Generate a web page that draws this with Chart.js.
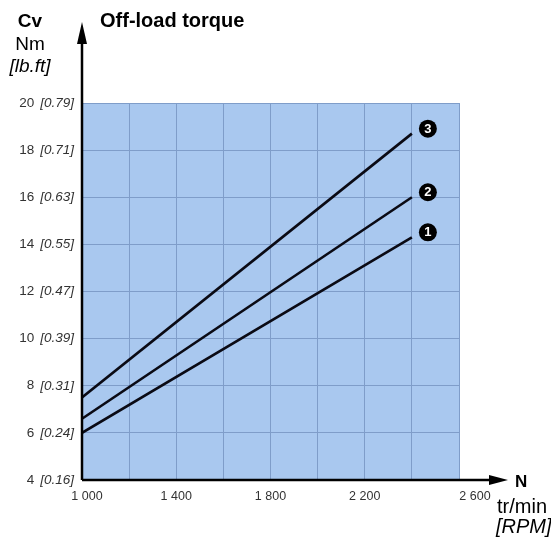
<!DOCTYPE html>
<html><head><meta charset="utf-8">
<script src="https://cdn.jsdelivr.net/npm/chart.js@4.4.1/dist/chart.umd.min.js"></script>
<style>html,body{margin:0;padding:0;background:#fff}#wrap{width:551px;height:537px;position:relative}</style>
</head><body><div id="wrap"><canvas id="c" width="551" height="537"></canvas></div>
<script>
// Data
const speeds = [1000, 2400];
const curve1 = [6.0, 14.3];
const curve2 = [6.6, 16.0];
const curve3 = [7.5, 18.7];
const curveNames = ['1', '2', '3'];
const xTickValues = [1000, 1400, 1800, 2200, 2600];
const xTickLabels = ['1 000', '1 400', '1 800', '2 200', '2 600'];
const yTickValues = [4, 6, 8, 10, 12, 14, 16, 18, 20];
const yTickLbft = ['0.16', '0.24', '0.31', '0.39', '0.47', '0.55', '0.63', '0.71', '0.79'];

const FONT = '"Liberation Sans", Arial, sans-serif';

const decor = {
  id: 'decor',
  beforeDraw(chart) {
    const {ctx, chartArea: a} = chart;
    ctx.save();
    ctx.fillStyle = '#a9c8ef';
    ctx.fillRect(a.left, a.top, a.right - a.left, a.bottom - a.top);
    ctx.restore();
  },
  afterDatasetsDraw(chart) {
    const {ctx, chartArea: a, scales: {x, y}} = chart;
    ctx.save();
    // axes with arrows
    ctx.strokeStyle = '#000'; ctx.fillStyle = '#000'; ctx.lineWidth = 2.5;
    ctx.beginPath(); ctx.moveTo(a.left, a.bottom); ctx.lineTo(a.left, 40); ctx.stroke();
    ctx.beginPath(); ctx.moveTo(a.left, a.bottom); ctx.lineTo(494, a.bottom); ctx.stroke();
    ctx.beginPath(); ctx.moveTo(a.left, 22); ctx.lineTo(a.left - 5, 44); ctx.lineTo(a.left + 5, 44); ctx.closePath(); ctx.fill();
    ctx.beginPath(); ctx.moveTo(508, a.bottom); ctx.lineTo(489, a.bottom - 5); ctx.lineTo(489, a.bottom + 5); ctx.closePath(); ctx.fill();

    // numbered markers at the end of each curve
    chart.data.datasets.forEach((ds, i) => {
      const meta = chart.getDatasetMeta(i);
      const p = meta.data[meta.data.length - 1];
      const cx = p.x + 16, cy = p.y - 5;
      ctx.fillStyle = '#000';
      ctx.beginPath(); ctx.arc(cx, cy, 9, 0, Math.PI * 2); ctx.fill();
      ctx.fillStyle = '#fff';
      ctx.font = 'bold 13px ' + FONT;
      ctx.textAlign = 'center'; ctx.textBaseline = 'middle';
      ctx.fillText(curveNames[i], cx, cy + 0.5);
    });

    // y tick labels
    ctx.fillStyle = '#333';
    ctx.textBaseline = 'middle';
    yTickValues.forEach((v, i) => {
      const py = y.getPixelForValue(v);
      const ital = '[' + yTickLbft[i] + ']';
      ctx.font = 'italic 13.5px ' + FONT;
      const w2 = ctx.measureText(ital).width;
      ctx.textAlign = 'right';
      ctx.fillText(ital, 74, py);
      ctx.font = '13.5px ' + FONT;
      ctx.fillText(String(v), 74 - w2 - 6, py);
    });
    // x tick labels
    ctx.textAlign = 'center'; ctx.textBaseline = 'middle';
    ctx.font = '12.5px ' + FONT;
    xTickValues.forEach((v, i) => {
      let px = x.getPixelForValue(v);
      if (i === 0) px += 5;
      if (i === xTickValues.length - 1) px += 16;
      ctx.fillText(xTickLabels[i], px, 497);
    });

    // titles
    ctx.fillStyle = '#000';
    ctx.textAlign = 'center'; ctx.textBaseline = 'alphabetic';
    ctx.font = 'bold 19px ' + FONT; ctx.fillText('Cv', 30, 27);
    ctx.font = '19px ' + FONT; ctx.fillText('Nm', 30, 50);
    ctx.font = 'italic 19px ' + FONT; ctx.fillText('[lb.ft]', 30, 72);
    ctx.textAlign = 'left';
    ctx.font = 'bold 20px ' + FONT;
    ctx.fillText('Off-load torque', 100, 27);
    ctx.font = 'bold 17px ' + FONT; ctx.fillText('N', 515, 487);
    ctx.font = '20px ' + FONT; ctx.fillText('tr/min', 497, 513);
    ctx.font = 'italic 20px ' + FONT; ctx.fillText('[RPM]', 496, 533);
    ctx.restore();
  }
};

const mkDs = (vals) => ({
  data: speeds.map((s, i) => ({x: s, y: vals[i]})),
  borderColor: '#0a0a14', borderWidth: 2.6, pointRadius: 0, fill: false, tension: 0
});

new Chart(document.getElementById('c'), {
  type: 'line',
  data: { datasets: [mkDs(curve1), mkDs(curve2), mkDs(curve3)] },
  options: {
    responsive: false, animation: false,
    layout: { padding: { left: 82, top: 103, right: 92, bottom: 57 } },
    plugins: { legend: { display: false }, tooltip: { enabled: false } },
    scales: {
      x: { type: 'linear', min: 1000, max: 2600,
           ticks: { display: false, stepSize: 200 },
           grid: { color: '#7f9dc9', lineWidth: 1, drawTicks: false },
           border: { display: false } },
      y: { type: 'linear', min: 4, max: 20,
           ticks: { display: false, stepSize: 2 },
           grid: { color: '#7f9dc9', lineWidth: 1, drawTicks: false },
           border: { display: false } }
    }
  },
  plugins: [decor]
});
</script></body></html>
